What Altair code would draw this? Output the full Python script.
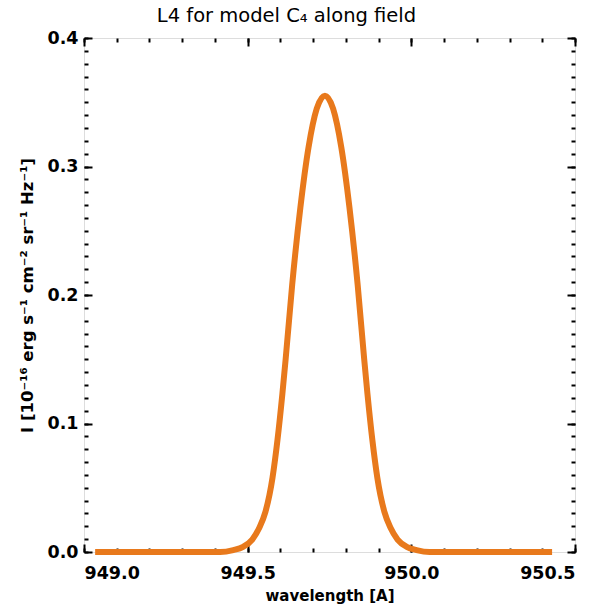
import altair as alt
import pandas as pd

# Line profile L4, model C4, along the field
wavelength = [
    949.034, 949.416, 949.456, 949.486, 949.514, 949.536, 949.554, 949.576,
    949.591, 949.606, 949.616, 949.636, 949.661, 949.686, 949.711, 949.736,
    949.761, 949.786, 949.811, 949.836, 949.856, 949.866, 949.881, 949.896,
    949.918, 949.936, 949.958, 949.986, 950.016, 950.056, 950.430,
]
intensity = [
    0.0, 0.0, 0.0015, 0.004, 0.0097, 0.019, 0.031, 0.058,
    0.087, 0.123, 0.150, 0.208, 0.268, 0.315, 0.345, 0.355,
    0.345, 0.315, 0.268, 0.208, 0.150, 0.123, 0.087, 0.058,
    0.031, 0.019, 0.0097, 0.004, 0.0015, 0.0, 0.0,
]

x_major = [949.0, 949.5, 950.0, 950.5]
x_minor = [round(949.0 + 0.1 * i, 1) for i in range(16)]
y_major = [0.0, 0.1, 0.2, 0.3, 0.4]
y_minor = [round(0.01 * i, 2) for i in range(41)]

W, H = 491, 514
FONT = "DejaVu Sans"

df = pd.DataFrame({"wavelength": wavelength, "intensity": intensity})

xs = alt.Scale(domain=[949.0, 950.5], nice=False, zero=False)
ys = alt.Scale(domain=[0.0, 0.4], nice=False, zero=False)

base = alt.Chart(df)

# Curve with the labelled axes (labels only; ticks are drawn inward below)
curve = base.mark_line(color="#E8791C", strokeWidth=6, interpolate="monotone").encode(
    x=alt.X(
        "wavelength:Q",
        scale=xs,
        axis=alt.Axis(
            values=x_major, format=".1f", ticks=False, domain=False, grid=False,
            title="wavelength [A]", labelPadding=12, titlePadding=7,
            labelFont=FONT, labelFontSize=17.5, labelFontWeight="bold", labelColor="black",
            titleFont=FONT, titleFontSize=15, titleFontWeight="bold", titleColor="black",
        ),
    ),
    y=alt.Y(
        "intensity:Q",
        scale=ys,
        axis=alt.Axis(
            values=y_major, format=".1f", ticks=False, domain=False, grid=False,
            title="I [10⁻¹⁶ erg s⁻¹ cm⁻² sr⁻¹ Hz⁻¹]", labelPadding=6, titlePadding=11,
            labelFont=FONT, labelFontSize=17.5, labelFontWeight="bold", labelColor="black",
            titleFont=FONT, titleFontSize=16.5, titleFontWeight="bold", titleColor="black",
        ),
    ),
)


def tick_axis(values, size, orient, offset):
    return alt.Axis(
        orient=orient, offset=offset, values=values, tickSize=size, tickWidth=2,
        tickColor="black", labels=False, domain=False, grid=False, title="",
    )


def tick_layer(xvals, yvals, size, x_orient, y_orient, x_off, y_off):
    return base.mark_line(opacity=0).encode(
        x=alt.X("wavelength:Q", scale=xs, axis=tick_axis(xvals, size, x_orient, x_off)),
        y=alt.Y("intensity:Q", scale=ys, axis=tick_axis(yvals, size, y_orient, y_off)),
    )


# Inward ticks on all four sides: bottom/left and top/right
inner_bl_minor = tick_layer(x_minor, y_minor, 4, "top", "right", -H, -W)
inner_bl_major = tick_layer(x_major, y_major, 8, "top", "right", -H, -W)
inner_tr_minor = tick_layer(x_minor, y_minor, 4, "bottom", "left", -H, -W)
inner_tr_major = tick_layer(x_major, y_major, 8, "bottom", "left", -H, -W)

chart = (
    alt.layer(curve, inner_bl_minor, inner_bl_major, inner_tr_minor, inner_tr_major)
    .resolve_scale(x="shared", y="shared")
    .resolve_axis(x="independent", y="independent")
    .properties(
        width=W,
        height=H,
        autosize=alt.AutoSizeParams(type="none"),
        padding={"left": 84, "top": 38, "right": 27, "bottom": 54},
        title=alt.TitleParams(
            "L4 for model C₄ along field", font=FONT, fontSize=19.5,
            fontWeight="normal", color="black", offset=16, dy=13, dx=-43,
        ),
    )
    .configure_view(stroke="black", strokeWidth=2)
    .configure(background="white")
)

chart.save("out.html", embed_options={"renderer": "svg", "actions": False})
